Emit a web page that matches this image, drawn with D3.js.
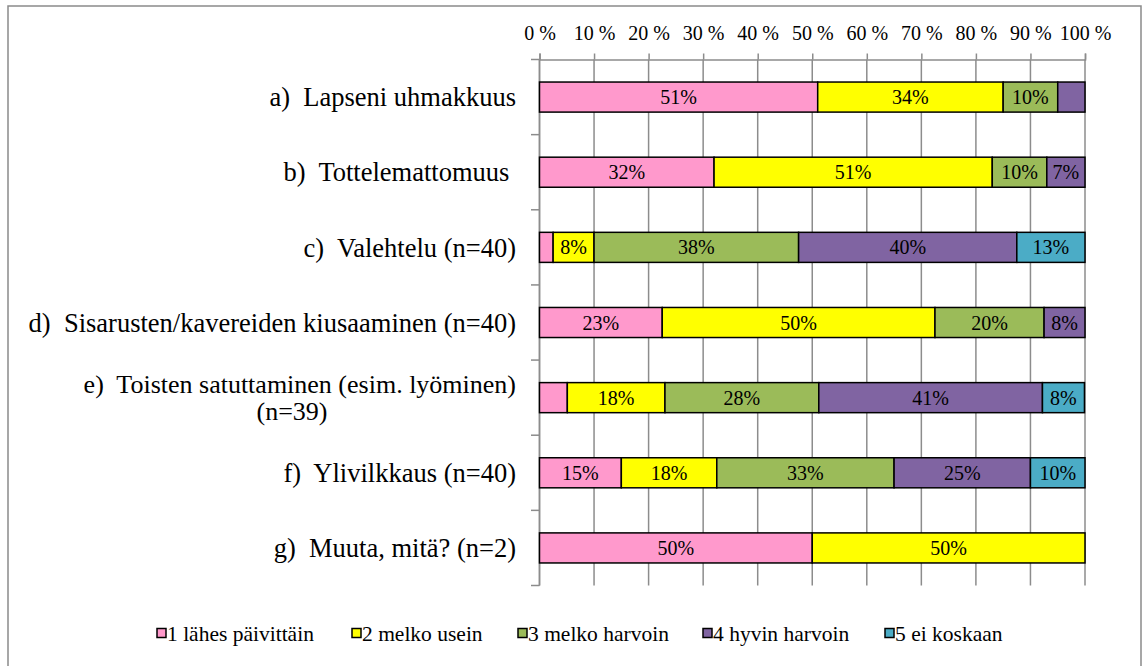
<!DOCTYPE html>
<html><head><meta charset="utf-8">
<script src="https://cdn.jsdelivr.net/npm/d3@7"></script>
</head>
<body style="margin:0;background:#fff">
<svg id="c" width="1142" height="666"></svg>
<script>
const categories = [
  ["a)  Lapseni uhmakkuus"],
  ["b)  Tottelemattomuus\u00a0"],
  ["c)  Valehtelu (n=40)"],
  ["d)  Sisarusten/kavereiden kiusaaminen (n=40)"],
  ["e)  Toisten satuttaminen (esim. lyöminen)", "(n=39)"],
  ["f)  Ylivilkkaus (n=40)"],
  ["g)  Muuta, mitä? (n=2)"]
];
const seriesNames = ["1 lähes päivittäin","2 melko usein","3 melko harvoin","4 hyvin harvoin","5 ei koskaan"];
const s1 = [51, 32, 2.5, 22.5, 5.1, 15, 50];
const s2 = [34, 51, 7.5, 50, 17.9, 17.5, 50];
const s3 = [10, 10, 37.5, 20, 28.2, 32.5, 0];
const s4 = [5, 7, 40, 7.5, 41.0, 25, 0];
const s5 = [0, 0, 12.5, 0, 7.7, 10, 0];
const tickValues = [0,10,20,30,40,50,60,70,80,90,100];
const colors = ["#FF99CC","#FFFF00","#9BBB59","#8064A2","#4BACC6"];

(function(){
const FONT = "'Liberation Serif', 'Times New Roman', serif";
const series = [s1,s2,s3,s4,s5];
const svg = d3.select("#c");

svg.append("rect").attr("x",8).attr("y",6).attr("width",1133).attr("height",670)
  .attr("fill","#fff").attr("stroke","#8a8a8a").attr("stroke-width",1.5);

const pL=539.5, pR=1085, pT=59.5, pB=585.5;
const x = d3.scaleLinear().domain([0,100]).range([pL,pR]);
const y = d3.scaleBand().domain(d3.range(categories.length)).range([pT,pB]).paddingInner(0.6).paddingOuter(0.3);

svg.append("g").selectAll("line").data(tickValues).join("line")
  .attr("x1",d=>x(d)).attr("x2",d=>x(d)).attr("y1",pT).attr("y2",pB)
  .attr("stroke","#8c8c8c").attr("stroke-width",1.5);

const ax = svg.append("g").attr("transform",`translate(0,${pT})`)
  .call(d3.axisTop(x).tickValues(tickValues).tickFormat(d=>d+" %").tickSize(6).tickPadding(13.5));
ax.select(".domain").attr("stroke","#8c8c8c").attr("stroke-width",1.5);
ax.selectAll(".tick line").attr("stroke","#8c8c8c").attr("stroke-width",1.5);
ax.selectAll(".tick text").style("font-family",FONT).style("font-size","20px").style("fill","#000");

const step = (pB-pT)/categories.length;
svg.append("line").attr("x1",pL).attr("x2",pL).attr("y1",pT).attr("y2",pB)
  .attr("stroke","#8c8c8c").attr("stroke-width",1.5);
svg.append("g").selectAll("line").data(d3.range(categories.length+1)).join("line")
  .attr("x1",pL-8.5).attr("x2",pL).attr("y1",i=>pT+i*step).attr("y2",i=>pT+i*step)
  .attr("stroke","#8c8c8c").attr("stroke-width",1.5);

const stacked = categories.map((c,i)=>{
  let acc=0;
  return series.map((s,k)=>{const v=s[i]; const o={i,k,v,x0:acc,x1:acc+v}; acc+=v; return o;}).filter(d=>d.v>0);
}).flat();
svg.append("g").selectAll("rect").data(stacked).join("rect")
  .attr("x",d=>x(d.x0)).attr("width",d=>x(d.x1)-x(d.x0))
  .attr("y",d=>y(d.i)).attr("height",y.bandwidth())
  .attr("fill",d=>colors[d.k]).attr("stroke","#000").attr("stroke-width",1.5);
svg.append("g").selectAll("text").data(stacked.filter(d=>d.v>6)).join("text")
  .attr("x",d=>(x(d.x0)+x(d.x1))/2).attr("y",d=>y(d.i)+y.bandwidth()/2)
  .attr("dy","0.35em").attr("text-anchor","middle")
  .style("font-family",FONT).style("font-size","20px").style("fill","#000")
  .text(d=>Math.round(d.v)+"%");

const cl = svg.append("g");
function lab(xp, yp, anchor, t, fs){
  cl.append("text").attr("x",xp).attr("y",yp).attr("dy","0.35em").attr("text-anchor",anchor)
    .style("font-family",FONT).style("font-size",fs).style("white-space","pre").style("fill","#000").text(t);
}
categories.forEach((lines,i)=>{
  const cy = y(i)+y.bandwidth()/2;
  if(lines.length===1){
    lab(516, cy, "end", lines[0], "26.5px");
  } else {
    lab(516, cy-13.5, "end", lines[0], "26px");
    lab(292, cy+13.5, "middle", lines[1], "26px");
  }
});

const legX = [157,352,518,703,885];
const lg = svg.append("g").selectAll("g").data(seriesNames).join("g")
  .attr("transform",(d,i)=>`translate(${legX[i]},633)`);
lg.append("rect").attr("x",0).attr("y",-4.5).attr("width",9).attr("height",9)
  .attr("fill",(d,i)=>colors[i]).attr("stroke","#000").attr("stroke-width",1.5);
lg.append("text").attr("x",10).attr("y",0).attr("dy","0.35em")
  .style("font-family",FONT).style("font-size","21.5px").style("fill","#000").text(d=>d);
})();
</script>
</body></html>
